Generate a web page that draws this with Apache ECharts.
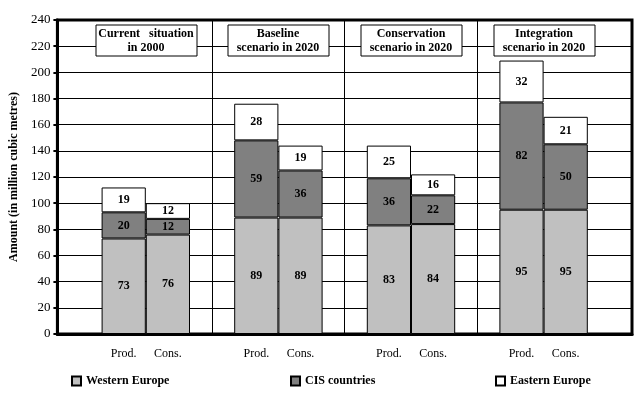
<!DOCTYPE html>
<html>
<head>
<meta charset="utf-8">
<script src="https://cdn.jsdelivr.net/npm/echarts@6/dist/echarts.min.js"></script>
<style>
html,body{margin:0;padding:0;background:#fff;}
#chart{width:642px;height:394px;}
</style>
</head>
<body>
<div id="chart"></div>
<script>
// ---- data ----
const groupTitles = ['Current   situation\nin 2000', 'Baseline\nscenario in 2020', 'Conservation\nscenario in 2020', 'Integration\nscenario in 2020'];
const barTypes = ['Prod.', 'Cons.'];
const seriesNames = ['Western Europe', 'CIS countries', 'Eastern Europe'];
const western = [73, 76, 89, 89, 83, 84, 95, 95];
const cis = [20, 12, 59, 36, 36, 22, 82, 50];
const eastern = [19, 12, 28, 19, 25, 16, 32, 21];
const yMin = 0, yMax = 240, yStep = 20;
const yTitle = 'Amount (in million cubic metres)';

// ---- build category slots: gap, P, C, gap, P, C, ..., gap ----
const FONT = '"Times New Roman", "Liberation Serif", serif';
const categories = [''];
const slotIndex = []; // bar index -> category index
groupTitles.forEach((g, gi) => {
  barTypes.forEach((b, bi) => { slotIndex.push(categories.length); categories.push(b); });
  categories.push('');
});
function toSlots(arr) {
  const out = categories.map(() => null);
  arr.forEach((v, i) => { out[slotIndex[i]] = v; });
  return out;
}
const gapIdx = [];
categories.forEach((c, i) => { if (c === '' && i > 0 && i < categories.length - 1) gapIdx.push(i); });

const colors = ['#C0C0C0', '#808080', '#FFFFFF'];
const values = [western, cis, eastern];

const chart = echarts.init(document.getElementById('chart'), null, {renderer: 'canvas'});

const series = seriesNames.map((name, si) => ({
  name: name,
  type: 'bar',
  stack: 'total',
  barCategoryGap: '0%',
  data: toSlots(values[si]),
  itemStyle: {color: colors[si], borderColor: '#000', borderWidth: 1},
  label: {
    show: true, position: 'inside', color: '#000',
    fontFamily: FONT, fontWeight: 'bold', fontSize: 12
  },
  emphasis: {disabled: true},
  markLine: si === 0 ? {
    silent: true, symbol: 'none', animation: false,
    label: {show: false},
    lineStyle: {color: '#000', width: 1, type: 'solid'},
    data: gapIdx.map(i => ({xAxis: i}))
  } : undefined
}));

const legendLefts = [66, 285, 490];
const legends = seriesNames.map((n, i) => ({
  data: [n], left: legendLefts[i], top: 370,
  icon: 'rect', itemWidth: 9, itemHeight: 9,
  textStyle: {fontFamily: FONT, fontWeight: 'bold', fontSize: 12, color: '#000'},
  selectedMode: false
}));

chart.setOption({
  animation: false,
  backgroundColor: '#fff',
  grid: {left: 52, right: 10, top: 20, bottom: 60, show: true, borderColor: '#000', borderWidth: 3, backgroundColor: 'transparent'},
  legend: legends,
  xAxis: {
    type: 'category', data: categories, boundaryGap: true,
    axisLine: {lineStyle: {color: '#000', width: 3}},
    axisTick: {show: false},
    axisLabel: {interval: 0, margin: 14, color: '#000', fontFamily: FONT, fontSize: 12},
    splitLine: {show: false}
  },
  yAxis: {
    type: 'value', min: yMin, max: yMax, interval: yStep,
    name: yTitle, nameLocation: 'middle', nameGap: 37, nameRotate: 90,
    nameTextStyle: {fontFamily: FONT, fontWeight: 'bold', fontSize: 12, color: '#000'},
    axisLine: {show: true, lineStyle: {color: '#000', width: 3}},
    axisTick: {show: true, length: 4, lineStyle: {color: '#000', width: 2}},
    axisLabel: {color: '#000', fontFamily: FONT, fontSize: 13, margin: 7},
    splitLine: {show: true, lineStyle: {color: '#000', width: 1}}
  },
  series: series
});

// ---- title boxes ----
const graphics = groupTitles.map((t, gi) => {
  const a = chart.convertToPixel({xAxisIndex: 0}, slotIndex[gi * 2]);
  const b = chart.convertToPixel({xAxisIndex: 0}, slotIndex[gi * 2 + 1]);
  const cx = Math.round((a + b) / 2);
  const cy = Math.round(chart.convertToPixel({yAxisIndex: 0}, 225));
  const w = 101;
  const h = 31;
  return {
    type: 'group', z: 100,
    children: [
      {type: 'rect', z: 100, shape: {x: cx - w / 2 + 0.5, y: cy - h / 2 + 0.5, width: w, height: h},
       style: {fill: '#fff', stroke: '#000', lineWidth: 1}},
      {type: 'text', z: 101, style: {text: t, x: cx, y: cy + 1, align: 'center', verticalAlign: 'middle',
       font: 'bold 12px ' + FONT, fill: '#000', lineHeight: 14}}
    ]
  };
});
chart.setOption({graphic: graphics});
</script>
</body>
</html>
